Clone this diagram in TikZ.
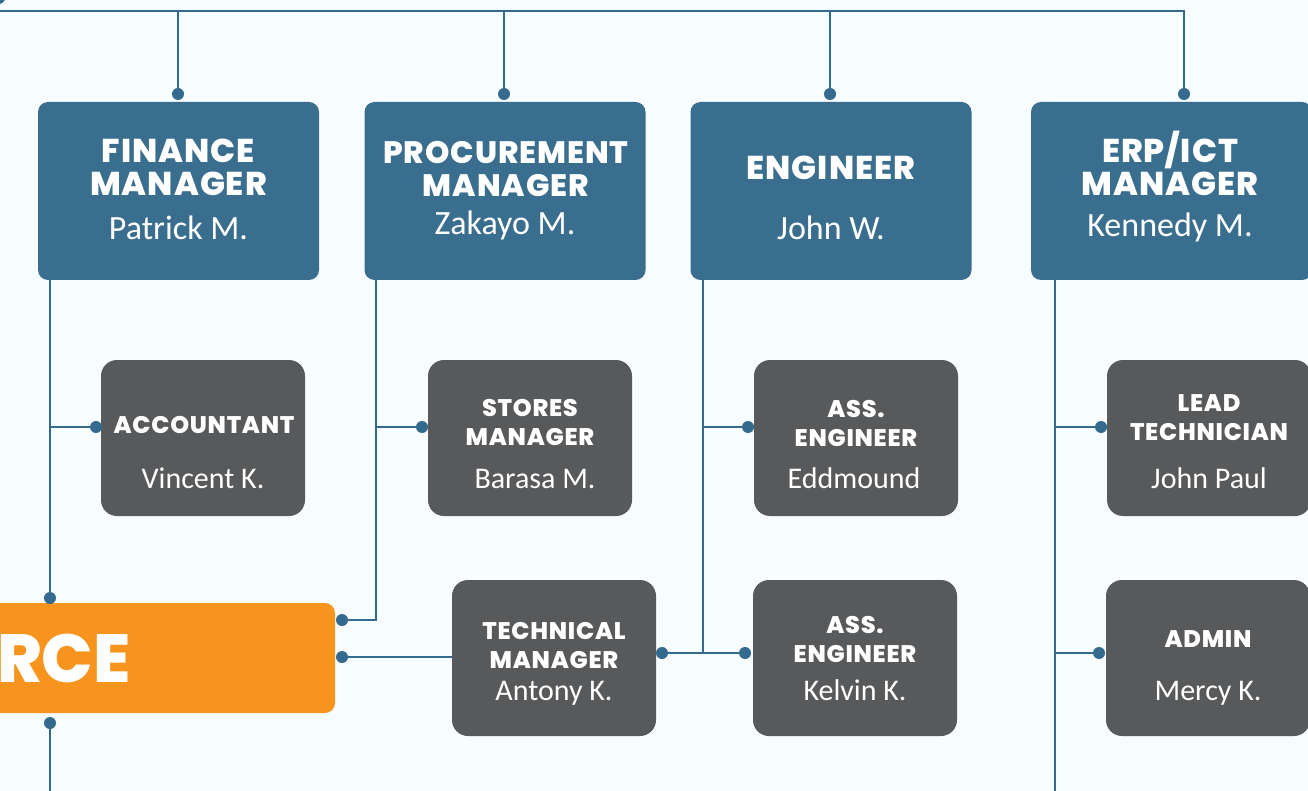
\documentclass[tikz,border=0pt]{standalone}
\usepackage{fontspec}
\setmainfont{Carlito}
\newfontfamily\headfont{Poppins ExtraBold}[LetterSpace=3]
\newfontfamily\bigfont{Poppins ExtraBold}
\usepackage{xcolor}
\definecolor{orgblue}{RGB}{58,110,143}
\definecolor{orgline}{RGB}{52,106,142}
\definecolor{orggray}{RGB}{88,89,91}
\definecolor{orgorange}{RGB}{247,148,30}
\definecolor{orgbg}{RGB}{247,252,254}
\usetikzlibrary{calc}

\tikzset{
  headbox/.style={fill=orgblue, rounded corners=10pt, minimum width=281pt,
    minimum height=178pt, inner sep=0pt},
  staffbox/.style={fill=orggray, rounded corners=16pt, minimum width=204pt,
    minimum height=156pt, inner sep=0pt},
  srcbox/.style={fill=orgorange, rounded corners=10pt, minimum width=635pt,
    minimum height=110pt, inner sep=0pt},
  headttl/.style={text=white, anchor=base, inner sep=0pt, align=center,
    font=\headfont\fontsize{33}{33}\selectfont},
  headnm/.style={text=white, anchor=base, inner sep=0pt,
    font=\fontsize{34}{36}\selectfont},
  staffttl/.style={text=white, anchor=base, inner sep=0pt, align=center,
    font=\headfont\fontsize{24}{28.5}\selectfont},
  staffnm/.style={text=white, anchor=base, inner sep=0pt,
    font=\fontsize{30}{32}\selectfont},
  dot/.style={circle, fill=orgline, inner sep=0pt, minimum size=12pt},
  wire/.style={draw=orgline, line width=2pt}
}

\begin{document}
\begin{tikzpicture}[x=1pt, y=-1pt]
  \useasboundingbox (0,0) rectangle (1308,791);
  \clip (0,0) rectangle (1308,791);
  \fill[orgbg] (0,0) rectangle (1308,791);

  % managers row (title nodes sit on their last baseline)
  \node[headbox] (fin) at (178.5,191) {};
  \node[headttl] (fin-t) at (178.5,196) {FINANCE\\MANAGER};
  \node[headnm] (fin-n) at (178.5,240) {Patrick M.};

  \node[headbox] (proc) at (505,191) {};
  \node[headttl, font=\headfont\fontsize{31}{33}\selectfont] (proc-t)
       at (506,197) {PROCUREMENT\\MANAGER};
  \node[headnm] (proc-n) at (505,235) {Zakayo M.};

  \node[headbox] (eng) at (831,191) {};
  \node[headttl] (eng-t) at (831,180) {ENGINEER};
  \node[headnm] (eng-n) at (831,240) {John W.};

  \node[headbox] (erp) at (1171.5,191) {};
  \node[headttl] (erp-t) at (1170,196) {ERP/ICT\\MANAGER};
  \node[headnm] (erp-n) at (1170,237) {Kennedy M.};

  % staff, first row
  \node[staffbox] (acc) at (203,438) {};
  \node[staffttl] (acc-t) at (204,433) {ACCOUNTANT};
  \node[staffnm] (acc-n) at (203,488) {Vincent K.};

  \node[staffbox] (sto) at (530,438) {};
  \node[staffttl] (sto-t) at (530,445) {STORES\\MANAGER};
  \node[staffnm] (sto-n) at (535,488) {Barasa M.};

  \node[staffbox] (ae1) at (856,438) {};
  \node[staffttl] (ae1-t) at (856,446) {ASS.\\ENGINEER};
  \node[staffnm] (ae1-n) at (854,488) {Eddmound};

  \node[staffbox] (lead) at (1209,438) {};
  \node[staffttl] (lead-t) at (1209,440) {LEAD\\TECHNICIAN};
  \node[staffnm] (lead-n) at (1209,488) {John Paul};

  % staff, second row
  \node[staffbox] (tech) at (554,658) {};
  \node[staffttl] (tech-t) at (554,668) {TECHNICAL\\MANAGER};
  \node[staffnm] (tech-n) at (554,700) {Antony K.};

  \node[staffbox] (ae2) at (855,658) {};
  \node[staffttl] (ae2-t) at (855,662) {ASS.\\ENGINEER};
  \node[staffnm] (ae2-n) at (855,700) {Kelvin K.};

  \node[staffbox] (adm) at (1208,658) {};
  \node[staffttl] (adm-t) at (1208,647) {ADMIN};
  \node[staffnm] (adm-n) at (1208,700) {Mercy K.};

  % orange source box, runs off the left edge
  \node[srcbox] (src) at (17.5,658) {};
  \node[text=white, anchor=base east, inner sep=0pt,
        font=\bigfont\fontsize{68}{70}\selectfont] (src-t) at (131,682) {RCE};

  % top rail and drops
  \coordinate (rail-l) at (0,11);
  \coordinate (rail-r) at (1184,11);
  \node[dot] (corner) at (-1,-2) {};
  \node[dot] (fin-d) at (178,94) {};
  \node[dot] (proc-d) at (504,94) {};
  \node[dot] (eng-d) at (830,94) {};
  \node[dot] (erp-d) at (1184,94) {};
  \draw[wire] (rail-l) -- (rail-r) -- (erp-d);
  \foreach \d in {fin-d, proc-d, eng-d}
    \draw[wire] (\d |- rail-l) -- (\d);

  % spines below the managers
  \coordinate (fin-s) at (50,280);
  \coordinate (proc-s) at (376,280);
  \coordinate (eng-s) at (703,280);
  \coordinate (erp-s) at (1055,280);

  \node[dot] (src-top) at (50,598) {};
  \node[dot] (src-bot) at (50,723) {};
  \node[dot] (src-r1) at (342,620) {};
  \node[dot] (src-r2) at (342,657) {};
  \node[dot] (acc-d) at (96,427) {};
  \node[dot] (sto-d) at (422,427) {};
  \node[dot] (ae1-d) at (748,427) {};
  \node[dot] (lead-d) at (1101,427) {};
  \node[dot] (tech-d) at (662,653) {};
  \node[dot] (ae2-d) at (745,653) {};
  \node[dot] (adm-d) at (1099,653) {};

  % finance side
  \draw[wire] (fin-s) -- (src-top);
  \draw[wire] (acc-d) -- (acc-d -| fin-s);
  \draw[wire] (src-bot) -- ++(0,90);

  % procurement side
  \draw[wire] (proc-s) |- (src-r1);
  \draw[wire] (sto-d) -- (sto-d -| proc-s);
  \draw[wire] (src-r2) -- (src-r2 -| tech.west);

  % engineering side
  \draw[wire] (eng-s) -- (eng-s |- tech-d);
  \draw[wire] (ae1-d) -- (ae1-d -| eng-s);
  \draw[wire] (tech-d) -- (ae2-d);

  % ERP/ICT side
  \draw[wire] (erp-s) -- ++(0,520);
  \draw[wire] (lead-d) -- (lead-d -| erp-s);
  \draw[wire] (adm-d) -- (adm-d -| erp-s);
\end{tikzpicture}
\end{document}
